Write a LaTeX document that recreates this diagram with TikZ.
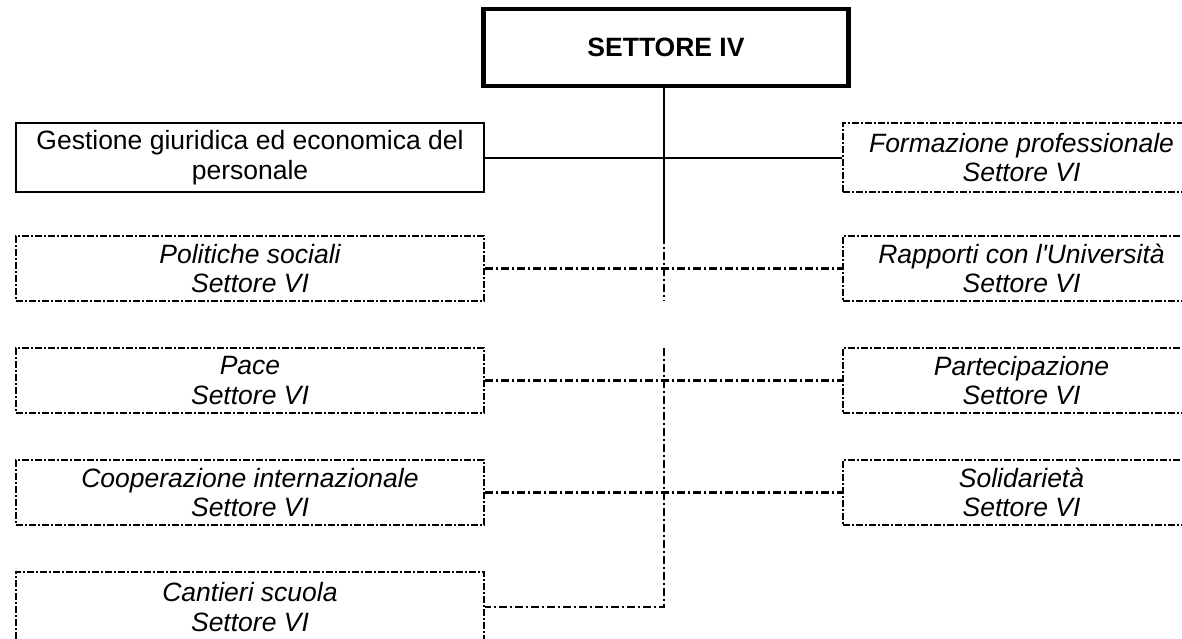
\documentclass[tikz,border=0pt]{standalone}
\usepackage{fontspec}
\setmainfont{Liberation Sans}
\begin{document}
\begin{tikzpicture}[x=1pt,y=-1pt,
  txt/.style={font=\fontsize{26.5}{29.5}\selectfont, align=center, inner sep=0pt},
  solidbox/.style={txt, draw, line width=2pt, minimum width=468pt, minimum height=69pt},
  dbox/.style={txt, font=\fontsize{26.5}{29.5}\selectfont\itshape, draw, line width=2.2pt,
     dash pattern=on 7pt off 2pt on 2pt off 2pt, minimum height=65pt},
  lbox/.style={dbox, minimum width=468pt},
  rbox/.style={dbox, minimum width=357pt},
  headbox/.style={txt, font=\fontsize{26.5}{29.5}\selectfont\bfseries, draw, line width=4.5pt,
     minimum width=365pt, minimum height=77pt},
  sline/.style={line width=2pt},
  dline/.style={line width=2.2pt, dash pattern=on 8pt off 3pt on 2pt off 3pt}
]
\useasboundingbox (0,0) rectangle (1182,638);
\node[headbox] (top) at (666,47.5) {SETTORE IV};
\node[solidbox] (ges) at (250,157.5) {Gestione giuridica ed economica del\\personale};
\node[rbox, minimum height=69pt] (form) at (1021.5,157.5) {Formazione professionale\\Settore VI};
\node[lbox] (pol) at (250,268.5) {Politiche sociali\\Settore VI};
\node[rbox] (rap) at (1021.5,268.5) {Rapporti con l\textquotesingle Università\\Settore VI};
\node[lbox] (pace) at (250,380.5) {Pace\\Settore VI};
\node[rbox] (part) at (1021.5,380.5) {Partecipazione\\Settore VI};
\node[lbox] (coop) at (250,492.5) {Cooperazione internazionale\\Settore VI};
\node[rbox] (sol) at (1021.5,492.5) {Solidarietà\\Settore VI};
\node[lbox, minimum height=70pt] (cant) at (250,607) {Cantieri scuola\\Settore VI};
\coordinate (v0) at (664,87);
\coordinate (v1) at (664,236);
\coordinate (v2) at (664,301);
\coordinate (v3) at (664,348);
\coordinate (v4) at (664,607);
\draw[sline] (v0) -- (v1);
\draw[dline] (v1) -- (v2);
\draw[dline] (v3) -- (v4) -- (cant.east);
\draw[sline] (ges.east) -- (form.west);
\draw[dline] (pol.east) -- (rap.west);
\draw[dline] (pace.east) -- (part.west);
\draw[dline] (coop.east) -- (sol.west);
\end{tikzpicture}
\end{document}
